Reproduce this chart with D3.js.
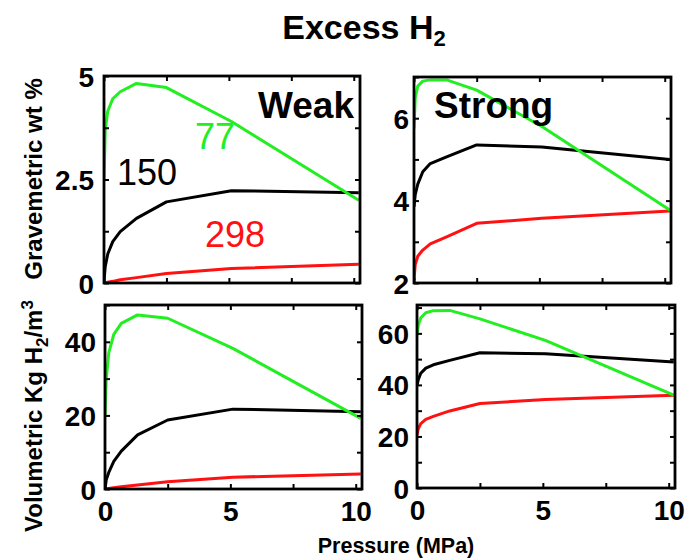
<!DOCTYPE html>
<html>
<head>
<meta charset="utf-8">
<script src="https://cdn.jsdelivr.net/npm/d3@7"></script>
<style>
  body { margin: 0; background: #fff; }
  text { font-family: "Liberation Sans", Arial, sans-serif; }
</style>
</head>
<body>
<div id="chart"></div>
<script>
// pressure points (MPa)
const pressure = [0, 0.05, 0.15, 0.35, 0.65, 1.3, 2.5, 5.1, 10.2];

// gravimetric wt %, weak binding
const weakGrav77 = [2.5, 3.7, 4.15, 4.45, 4.62, 4.82, 4.72, 3.9, 2.0];
const weakGrav150 = [0.05, 0.4, 0.7, 1.0, 1.24, 1.56, 1.96, 2.23, 2.18];
const weakGrav298 = [0, 0.005, 0.02, 0.04, 0.08, 0.13, 0.23, 0.35, 0.45];

// gravimetric wt %, strong binding
const strongGrav77 = [5.75, 6.5, 6.78, 6.9, 6.93, 6.93, 6.68, 5.8, 3.77];
const strongGrav150 = [3.85, 4.15, 4.4, 4.7, 4.9, 5.06, 5.35, 5.3, 5.0];
const strongGrav298 = [2.07, 2.45, 2.65, 2.8, 2.95, 3.12, 3.45, 3.57, 3.75];

// volumetric kg H2/m3, weak binding
const weakVol77 = [19.7, 30, 37, 42, 45, 47.3, 46.4, 38.2, 19.2];
const weakVol150 = [0, 2.5, 4.5, 7.5, 10.3, 14.7, 18.75, 21.7, 21.0];
const weakVol298 = [0, 0.05, 0.15, 0.35, 0.6, 1.1, 2.0, 3.2, 4.1];

// volumetric kg H2/m3, strong binding
const strongVol77 = [59.2, 63, 66, 68, 68.8, 68.9, 65.6, 57.3, 36];
const strongVol150 = [39.8, 42, 44.5, 46.5, 47.8, 49.5, 52.5, 52.1, 48.9];
const strongVol298 = [20.5, 23, 25, 26.6, 27.8, 29.9, 32.8, 34.3, 36];

const xTicks = [0, 2.5, 5, 7.5, 10];
const xLabels = [0, 5, 10];

const colors = { "77": "#22ee22", "150": "#000000", "298": "#ff1111" };

const W = 700, H = 559;

const svg = d3.select("#chart")
    .append("svg")
    .attr("width", W)
    .attr("height", H);

const panels = [
    { box: [104, 76, 360, 283], y: [0, 5], ticks: [0, 1.25, 2.5, 3.75, 5], labels: [0, 2.5, 5],
      series: [weakGrav77, weakGrav150, weakGrav298], xlab: false, pad: 10 },
    { box: [414, 77, 671, 283], y: [2, 7], ticks: [2, 3, 4, 5, 6, 7], labels: [2, 4, 6],
      series: [strongGrav77, strongGrav150, strongGrav298], xlab: false, pad: 5 },
    { box: [105, 305, 362, 489], y: [0, 50], ticks: [0, 10, 20, 30, 40, 50], labels: [0, 20, 40],
      series: [weakVol77, weakVol150, weakVol298], xlab: true, pad: 9 },
    { box: [417, 305, 675, 488], y: [0, 71], ticks: [0, 10, 20, 30, 40, 50, 60, 70], labels: [0, 20, 40, 60],
      series: [strongVol77, strongVol150, strongVol298], xlab: true, pad: 8 }
];

const temps = ["77", "150", "298"];

panels.forEach((p, i) => {
    const [x0, y0, x1, y1] = p.box;
    const x = d3.scaleLinear().domain([0, 10.25]).range([x0, x1]);
    const y = d3.scaleLinear().domain(p.y).range([y1, y0]);

    const g = svg.append("g");

    svg.append("clipPath").attr("id", "clip" + i)
        .append("rect")
        .attr("x", x0).attr("y", y0)
        .attr("width", x1 - x0).attr("height", y1 - y0);

    const line = d3.line()
        .x((d, k) => x(pressure[k]))
        .y(d => y(d));

    // draw 298, 150, 77 so green sits on top
    [2, 1, 0].forEach(s => {
        g.append("path")
            .datum(p.series[s])
            .attr("clip-path", `url(#clip${i})`)
            .attr("fill", "none")
            .attr("stroke", colors[temps[s]])
            .attr("stroke-width", 3)
            .attr("stroke-linejoin", "round")
            .attr("d", line);
    });

    // left axis with labels
    const left = g.append("g")
        .attr("transform", `translate(${x0},0)`)
        .call(d3.axisLeft(y).tickValues(p.ticks).tickSize(-5).tickPadding(p.pad)
            .tickFormat(d => p.labels.includes(d) ? d : ""));
    // right axis ticks
    const right = g.append("g")
        .attr("transform", `translate(${x1},0)`)
        .call(d3.axisRight(y).tickValues(p.ticks).tickSize(-5).tickFormat(""));
    // top axis ticks
    const top = g.append("g")
        .attr("transform", `translate(0,${y0})`)
        .call(d3.axisTop(x).tickValues(xTicks).tickSize(-5).tickFormat(""));
    // bottom axis
    const bottom = g.append("g")
        .attr("transform", `translate(0,${y1})`)
        .call(d3.axisBottom(x).tickValues(xTicks).tickSize(-5).tickPadding(12)
            .tickFormat(d => p.xlab && xLabels.includes(d) ? d : ""));

    [left, right, top, bottom].forEach(a => {
        a.select(".domain").remove();
        a.selectAll("line").attr("stroke", "#000").attr("stroke-width", 2);
        a.selectAll("text")
            .attr("fill", "#000")
            .style("font-size", "28px")
            .style("font-weight", "bold")
            .style("font-family", "'Liberation Sans', Arial, sans-serif");
    });
    left.selectAll("text").attr("dy", "0.36em");

    g.append("rect")
        .attr("x", x0).attr("y", y0)
        .attr("width", x1 - x0).attr("height", y1 - y0)
        .attr("fill", "none")
        .attr("stroke", "#000")
        .attr("stroke-width", 2.8);
});

// title
const title = svg.append("text")
    .attr("x", 364).attr("y", 39)
    .attr("text-anchor", "middle")
    .style("font-size", "34px")
    .style("font-weight", "bold");
title.append("tspan").text("Excess H");
title.append("tspan").attr("dy", 7).style("font-size", "22px").text("2");

// panel annotations
svg.append("text").attr("x", 354).attr("y", 118).attr("text-anchor", "end")
    .style("font-size", "37px").style("font-weight", "bold").text("Weak");
svg.append("text").attr("x", 434).attr("y", 118)
    .style("font-size", "37px").style("font-weight", "bold").text("Strong");

svg.append("text").attr("x", 195).attr("y", 149)
    .style("font-size", "36px").attr("fill", colors["77"]).text("77");
svg.append("text").attr("x", 117).attr("y", 185)
    .style("font-size", "36px").attr("fill", colors["150"]).text("150");
svg.append("text").attr("x", 205).attr("y", 247)
    .style("font-size", "36px").attr("fill", colors["298"]).text("298");

// axis titles
svg.append("text")
    .attr("transform", "translate(42,179) rotate(-90)")
    .attr("text-anchor", "middle")
    .style("font-size", "24px").style("font-weight", "bold")
    .text("Gravemetric wt %");

const vol = svg.append("text")
    .attr("transform", "translate(42,416) rotate(-90)")
    .attr("text-anchor", "middle")
    .style("font-size", "24px").style("font-weight", "bold");
vol.append("tspan").text("Volumetric Kg H");
vol.append("tspan").attr("dy", 6).style("font-size", "17px").text("2");
vol.append("tspan").attr("dy", -6).text("/m");
vol.append("tspan").attr("dy", -9).style("font-size", "17px").text("3");

svg.append("text")
    .attr("x", 396).attr("y", 553)
    .attr("text-anchor", "middle")
    .style("font-size", "21.5px").style("font-weight", "bold")
    .text("Pressure (MPa)");
</script>
</body>
</html>
